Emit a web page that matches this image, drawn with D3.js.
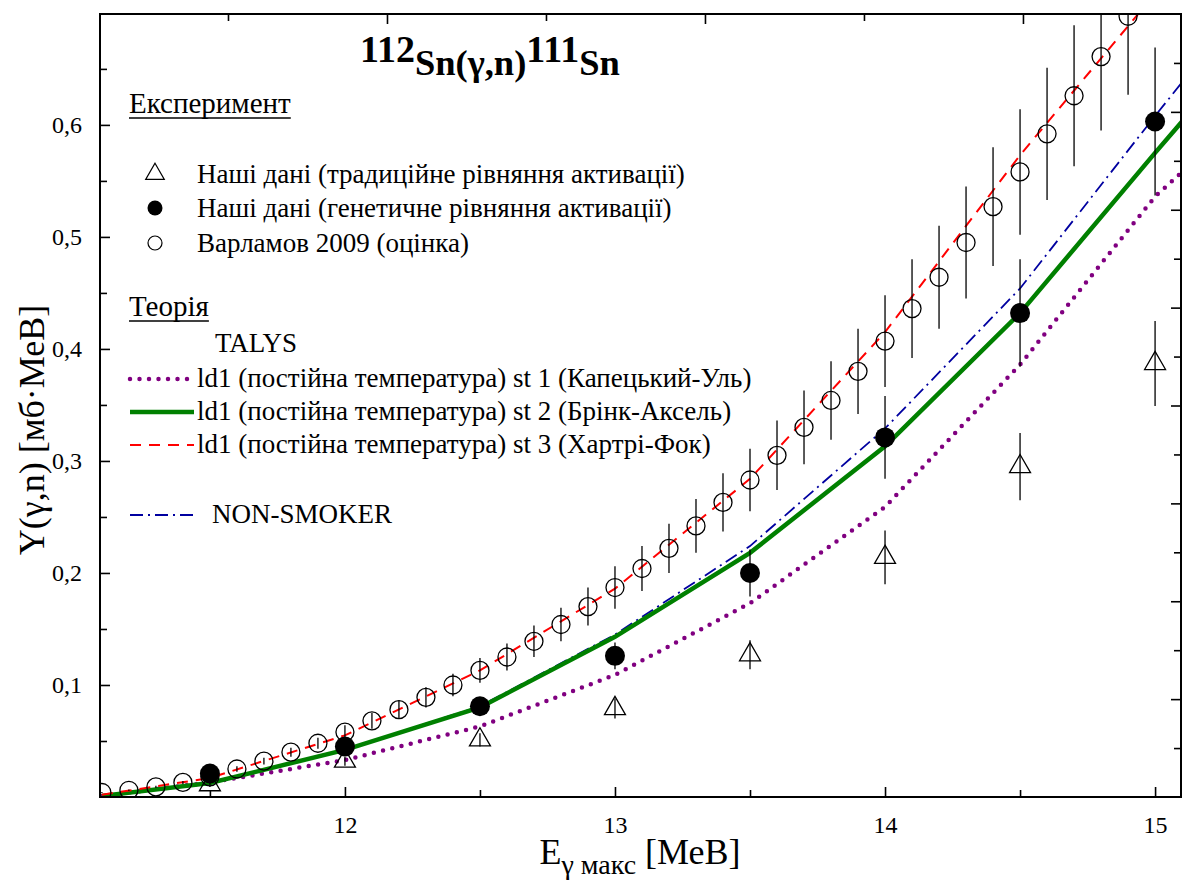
<!DOCTYPE html>
<html>
<head>
<meta charset="utf-8">
<script src="https://cdn.jsdelivr.net/npm/d3@7"></script>
<style>
    body { margin: 0; background: #fff; }
    svg { display: block; }
    text { font-family: "Liberation Serif", "Times New Roman", serif; fill: #000; }
</style>
</head>
<body>
<div id="chart"></div>
<script>
/* * * * * * * * * * * * * *
*   112Sn(g,n)111Sn yield   *
* * * * * * * * * * * * * */

// Varlamov 2009 (evaluation), step 0.1 MeV
const varlamovE = [11.1, 11.2, 11.3, 11.4, 11.5, 11.6, 11.7, 11.8, 11.9, 12.0,
    12.1, 12.2, 12.3, 12.4, 12.5, 12.6, 12.7, 12.8, 12.9, 13.0,
    13.1, 13.2, 13.3, 13.4, 13.5, 13.6, 13.7, 13.8, 13.9, 14.0,
    14.1, 14.2, 14.3, 14.4, 14.5, 14.6, 14.7, 14.8, 14.9];
const varlamovY = [0.004, 0.006, 0.009, 0.013, 0.018, 0.025, 0.032, 0.040, 0.048, 0.058,
    0.068, 0.078, 0.089, 0.100, 0.113, 0.125, 0.139, 0.154, 0.170, 0.187,
    0.204, 0.222, 0.242, 0.263, 0.283, 0.305, 0.330, 0.354, 0.380, 0.407,
    0.436, 0.464, 0.495, 0.527, 0.558, 0.592, 0.626, 0.661, 0.697];
const varlamovErr = [0.0004, 0.0006, 0.001, 0.0013, 0.002, 0.0025, 0.003, 0.004, 0.005, 0.006,
    0.007, 0.008, 0.009, 0.010, 0.011, 0.012, 0.014, 0.015, 0.017, 0.019,
    0.020, 0.022, 0.024, 0.026, 0.028, 0.031, 0.033, 0.035, 0.038, 0.041,
    0.044, 0.046, 0.050, 0.053, 0.056, 0.059, 0.063, 0.066, 0.070];

// our data, traditional activation equation (triangles)
const tradE = [11.5, 12.0, 12.5, 13.0, 13.5, 14.0, 14.5, 15.0];
const tradY = [0.011, 0.032, 0.051, 0.079, 0.127, 0.214, 0.295, 0.387];
const tradErr = [0.002, 0.004, 0.006, 0.009, 0.013, 0.024, 0.030, 0.038];

// our data, genetic activation equation (filled circles)
const genE = [11.5, 12.0, 12.5, 13.0, 13.5, 14.0, 14.5, 15.0];
const genY = [0.021, 0.045, 0.081, 0.126, 0.200, 0.321, 0.432, 0.603];
const genErr = [0.003, 0.004, 0.006, 0.012, 0.021, 0.037, 0.048, 0.066];

// theory curves
const theoryE = [11.1, 11.5, 12.0, 12.5, 13.0, 13.5, 14.0, 14.5, 15.0, 15.1];
const talysSt1 = [0.001, 0.013, 0.033, 0.063, 0.109, 0.173, 0.259, 0.386, 0.536, 0.558];
const talysSt2 = [0.001, 0.0125, 0.042, 0.080, 0.143, 0.218, 0.313, 0.432, 0.575, 0.603];
const talysSt3 = [0.002, 0.017, 0.055, 0.113, 0.186, 0.284, 0.415, 0.573, 0.717, 0.75];
const nonSmoker = [0.001, 0.013, 0.042, 0.081, 0.145, 0.224, 0.329, 0.454, 0.608, 0.638];

// tick values
const xMajor = [12, 13, 14, 15];
const xMinor = [11.5, 12.5, 13.5, 14.5];
const yMajor = [0.1, 0.2, 0.3, 0.4, 0.5, 0.6];
const yMinor = [0.05, 0.15, 0.25, 0.35, 0.45, 0.55, 0.65];

const width = 1184, height = 880;
const plot = {left: 100, right: 1181, top: 14, bottom: 797};

const svg = d3.select("#chart").append("svg")
    .attr("width", width)
    .attr("height", height);

// scales
const x = d3.scaleLinear().domain([11.093, 15.096]).range([plot.left, plot.right]);
const y = d3.scaleLinear().domain([0, 0.699]).range([plot.bottom, plot.top]);
// the mirrored top/right axes in the original carry their own (unlabelled) ticks
const xTop = d3.scaleLinear().domain([-0.9025, 2.497]).range([plot.left, plot.right]);
const yRight = d3.scaleLinear().domain([0, 0.8]).range([plot.bottom, plot.top]);

svg.append("clipPath").attr("id", "clip")
    .append("rect")
    .attr("x", plot.left).attr("y", plot.top)
    .attr("width", plot.right - plot.left).attr("height", plot.bottom - plot.top);

const comma = d => d3.format(".1f")(d).replace(".", ",");

// axes
function styleAxis(g) {
    g.select(".domain").remove();
    g.selectAll(".tick line").attr("stroke", "#000").attr("stroke-width", 1.6);
    g.selectAll("text").style("font-family", "'Liberation Serif', serif").style("font-size", "24px").attr("fill", "#000");
}

svg.append("g").attr("transform", `translate(0,${plot.bottom})`)
    .call(d3.axisBottom(x).tickValues(xMajor).tickSize(-10).tickPadding(19).tickFormat(d3.format("d")))
    .call(styleAxis);
svg.append("g").attr("transform", `translate(0,${plot.bottom})`)
    .call(d3.axisBottom(x).tickValues(xMinor).tickSize(-7).tickFormat(""))
    .call(styleAxis);

svg.append("g").attr("transform", `translate(${plot.left},0)`)
    .call(d3.axisLeft(y).tickValues(yMajor).tickSize(-10).tickPadding(18).tickFormat(comma))
    .call(styleAxis);
svg.append("g").attr("transform", `translate(${plot.left},0)`)
    .call(d3.axisLeft(y).tickValues(yMinor).tickSize(-7).tickFormat(""))
    .call(styleAxis);

svg.append("g").attr("transform", `translate(0,${plot.top})`)
    .call(d3.axisTop(xTop).tickValues([0, 1, 2]).tickSize(-10).tickFormat(""))
    .call(styleAxis);
svg.append("g").attr("transform", `translate(0,${plot.top})`)
    .call(d3.axisTop(xTop).tickValues([-0.5, 0.5, 1.5]).tickSize(-7).tickFormat(""))
    .call(styleAxis);

svg.append("g").attr("transform", `translate(${plot.right},0)`)
    .call(d3.axisRight(yRight).tickValues([0.1, 0.2, 0.3, 0.4, 0.5, 0.6, 0.7]).tickSize(-10).tickFormat(""))
    .call(styleAxis);
svg.append("g").attr("transform", `translate(${plot.right},0)`)
    .call(d3.axisRight(yRight).tickValues([0.05, 0.15, 0.25, 0.35, 0.45, 0.55, 0.65, 0.75]).tickSize(-7).tickFormat(""))
    .call(styleAxis);

// curves
const line = d3.line().x(d => x(d[0])).y(d => y(d[1]));
const zipE = vals => theoryE.map((e, i) => [e, vals[i]]);

const curves = [
    {vals: talysSt1, color: "#800080", w: 4.5, dash: "0,9.5", cap: "round"},
    {vals: nonSmoker, color: "#0000a0", w: 1.8, dash: "13,5,2,5", cap: "butt"},
    {vals: talysSt2, color: "#008000", w: 4.5, dash: null, cap: "butt"},
    {vals: talysSt3, color: "#ff0000", w: 2, dash: "11,8", cap: "butt"}
];

const plotArea = svg.append("g").attr("clip-path", "url(#clip)");

plotArea.selectAll(".curve")
    .data(curves)
    .enter().append("path")
    .attr("class", "curve")
    .attr("d", d => line(zipE(d.vals)))
    .attr("fill", "none")
    .attr("stroke", d => d.color)
    .attr("stroke-width", d => d.w)
    .attr("stroke-dasharray", d => d.dash)
    .attr("stroke-linecap", d => d.cap);

// error bars
function errorBars(E, Y, Err) {
    plotArea.append("g").selectAll("line")
        .data(E.map((e, i) => ({e: e, v: Y[i], err: Err[i]})))
        .enter().append("line")
        .attr("x1", d => x(d.e)).attr("x2", d => x(d.e))
        .attr("y1", d => y(d.v - d.err)).attr("y2", d => y(d.v + d.err))
        .attr("stroke", "#000")
        .attr("stroke-width", 1.3);
}
errorBars(varlamovE, varlamovY, varlamovErr);
errorBars(tradE, tradY, tradErr);
errorBars(genE, genY, genErr);

// symbols
plotArea.append("g").selectAll("circle")
    .data(varlamovE.map((e, i) => [e, varlamovY[i]]))
    .enter().append("circle")
    .attr("cx", d => x(d[0])).attr("cy", d => y(d[1]))
    .attr("r", 9)
    .attr("fill", "none")
    .attr("stroke", "#000")
    .attr("stroke-width", 1.3);

const tri = d3.symbol().type(d3.symbolTriangle).size(190);
plotArea.append("g").selectAll("path")
    .data(tradE.map((e, i) => [e, tradY[i]]))
    .enter().append("path")
    .attr("d", tri)
    .attr("transform", d => `translate(${x(d[0])},${y(d[1])})`)
    .attr("fill", "none")
    .attr("stroke", "#000")
    .attr("stroke-width", 1.3);

plotArea.append("g").selectAll("circle")
    .data(genE.map((e, i) => [e, genY[i]]))
    .enter().append("circle")
    .attr("cx", d => x(d[0])).attr("cy", d => y(d[1]))
    .attr("r", 10)
    .attr("fill", "#000");

// frame
svg.append("rect")
    .attr("x", plot.left).attr("y", plot.top)
    .attr("width", plot.right - plot.left).attr("height", plot.bottom - plot.top)
    .attr("fill", "none")
    .attr("stroke", "#000")
    .attr("stroke-width", 2);

// title
const title = svg.append("text")
    .attr("x", 360).attr("y", 75)
    .style("font-weight", "bold");
title.append("tspan").text("112").attr("dy", -13).style("font-size", "38px");
title.append("tspan").text("Sn(γ,n)").attr("dy", 13).style("font-size", "36.5px");
title.append("tspan").text("111").attr("dy", -13).style("font-size", "38px");
title.append("tspan").text("Sn").attr("dy", 13).style("font-size", "36.5px");

// axis titles
const xTitle = svg.append("text")
    .attr("x", 640).attr("y", 864)
    .attr("text-anchor", "middle")
    .style("font-size", "36px");
xTitle.append("tspan").text("E");
xTitle.append("tspan").text("γ макс").attr("dy", 10).style("font-size", "28px");
xTitle.append("tspan").text(" [МеВ]").attr("dy", -10);

svg.append("text")
    .attr("transform", `translate(44,430) rotate(-90)`)
    .attr("text-anchor", "middle")
    .style("font-size", "36px")
    .text("Y(γ,n) [мб·МеВ]");

// legend
const legend = svg.append("g");
const legendFont = "27px";

function heading(text, yPos) {
    const t = legend.append("text").attr("x", 129).attr("y", yPos).style("font-size", "29px").text(text);
    const len = t.node().getComputedTextLength();
    legend.append("line")
        .attr("x1", 129).attr("x2", 129 + len)
        .attr("y1", yPos + 5).attr("y2", yPos + 5)
        .attr("stroke", "#000").attr("stroke-width", 1.3);
}

heading("Експеримент", 113);

const expItems = [
    {label: "Наші дані (традиційне рівняння активації)", type: "tri", yPos: 174},
    {label: "Наші дані (генетичне рівняння активації)", type: "dot", yPos: 208},
    {label: "Варламов 2009 (оцінка)", type: "circle", yPos: 243}
];
expItems.forEach(d => {
    if (d.type === "tri") {
        legend.append("path").attr("d", d3.symbol().type(d3.symbolTriangle).size(150))
            .attr("transform", `translate(155,${d.yPos})`)
            .attr("fill", "none").attr("stroke", "#000").attr("stroke-width", 1.2);
    } else if (d.type === "dot") {
        legend.append("circle").attr("cx", 155).attr("cy", d.yPos).attr("r", 7.5).attr("fill", "#000");
    } else {
        legend.append("circle").attr("cx", 155).attr("cy", d.yPos).attr("r", 7)
            .attr("fill", "none").attr("stroke", "#000").attr("stroke-width", 1.2);
    }
    legend.append("text").attr("x", 197).attr("y", d.yPos + 9).style("font-size", legendFont).text(d.label);
});

heading("Теорія", 316);
legend.append("text").attr("x", 215).attr("y", 352).style("font-size", legendFont).text("TALYS");

const theoryItems = [
    {label: "ld1 (постійна температура) st 1 (Капецький-Уль)", curve: curves[0], yPos: 379, textX: 197},
    {label: "ld1 (постійна температура) st 2 (Брінк-Аксель)", curve: curves[2], yPos: 412, textX: 197},
    {label: "ld1 (постійна температура) st 3 (Хартрі-Фок)", curve: curves[3], yPos: 445, textX: 197},
    {label: "NON-SMOKER", curve: curves[1], yPos: 515, textX: 212}
];
theoryItems.forEach(d => {
    legend.append("line")
        .attr("x1", 130).attr("x2", 194)
        .attr("y1", d.yPos).attr("y2", d.yPos)
        .attr("stroke", d.curve.color)
        .attr("stroke-width", d.curve.w)
        .attr("stroke-dasharray", d.curve.dash)
        .attr("stroke-linecap", d.curve.cap);
    legend.append("text").attr("x", d.textX).attr("y", d.yPos + 8).style("font-size", legendFont).text(d.label);
});
</script>
</body>
</html>
